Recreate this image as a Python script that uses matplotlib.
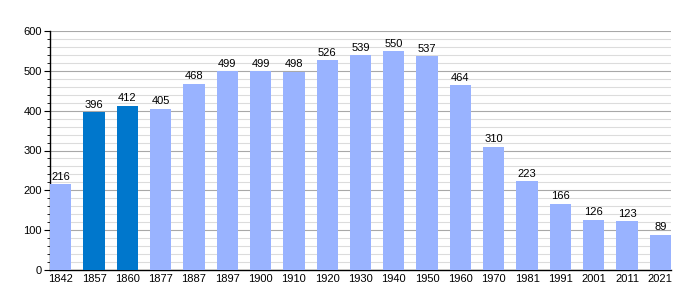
import matplotlib
matplotlib.use("Agg")
import matplotlib.pyplot as plt
from matplotlib.ticker import MultipleLocator

years = ["1842", "1857", "1860", "1877", "1887", "1897", "1900", "1910", "1920", "1930",
         "1940", "1950", "1960", "1970", "1981", "1991", "2001", "2011", "2021"]
population = [216, 396, 412, 405, 468, 499, 499, 498, 526, 539, 550, 537, 464, 310, 223, 166, 126, 123, 89]
highlight = ["1857", "1860"]

light = "#99b3ff"
dark = "#0077cc"

plt.rcParams["font.family"] = ["Liberation Sans", "DejaVu Sans"]

fig = plt.figure(figsize=(7, 3), dpi=100)
ax = fig.add_axes([50/700, 30/300, 621/700, 239/300])

x = list(range(len(years)))
colors = [dark if y in highlight else light for y in years]
ax.bar(x, population, width=0.64, color=colors, zorder=3)
for xi, v in zip(x, population):
    ax.text(xi, v + 6, str(v), ha="center", va="bottom", fontsize=8, color="#000000", zorder=4)

ax.set_xlim(-0.32, len(years) - 1 + 0.32)
ax.set_ylim(0, 600)
ax.yaxis.set_major_locator(MultipleLocator(100))
ax.yaxis.set_minor_locator(MultipleLocator(20))
ax.grid(axis="y", which="major", color="#a8a8a8", linewidth=0.8, zorder=0)
ax.grid(axis="y", which="minor", color="#dcdcdc", linewidth=0.8, zorder=0)
ax.set_xticks(x)
ax.set_xticklabels(years)
for s in ["top", "right"]:
    ax.spines[s].set_visible(False)
ax.spines["left"].set_linewidth(1.0)
ax.spines["bottom"].set_linewidth(1.0)
ax.tick_params(axis="x", length=0, labelsize=8, pad=3)
ax.tick_params(axis="y", which="major", length=4, labelsize=8, pad=2)
ax.tick_params(axis="y", which="minor", length=2)

fig.savefig("out.png", dpi=100)
